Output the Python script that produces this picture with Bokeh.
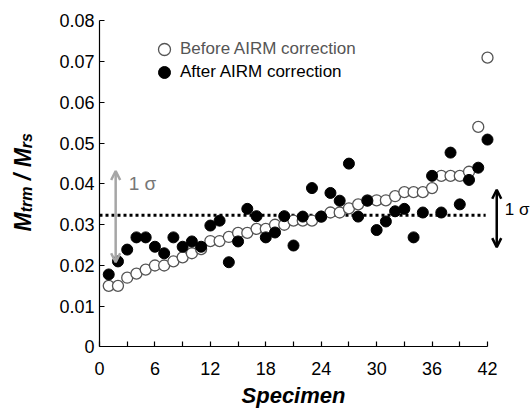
import math
from bokeh.plotting import figure
from bokeh.models import (Range1d, FixedTicker, CustomJSTickFormatter, Label, Arrow,
                          OpenHead, Legend, LegendItem)
from bokeh.embed import file_html
from bokeh.resources import INLINE

# ---------------- data ----------------
specimen = list(range(1, 43))
before = [0.015, 0.015, 0.017, 0.018, 0.019, 0.020, 0.020, 0.021, 0.022, 0.023,
          0.024, 0.026, 0.026, 0.027, 0.028, 0.028, 0.029, 0.029, 0.030, 0.030,
          0.031, 0.031, 0.031, 0.032, 0.033, 0.033, 0.034, 0.035, 0.036, 0.036,
          0.036, 0.037, 0.038, 0.038, 0.038, 0.039, 0.042, 0.042, 0.042, 0.043,
          0.054, 0.071]
after = [0.0178, 0.0210, 0.0239, 0.0269, 0.0269, 0.0246, 0.0230, 0.0269, 0.0246, 0.0259,
         0.0246, 0.0298, 0.0310, 0.0208, 0.0259, 0.0339, 0.0321, 0.0269, 0.0281, 0.0321,
         0.0249, 0.0320, 0.0390, 0.0320, 0.0378, 0.0359, 0.0450, 0.0320, 0.0359, 0.0287,
         0.0308, 0.0333, 0.0339, 0.0269, 0.0330, 0.0420, 0.0330, 0.0477, 0.0350, 0.0410,
         0.0440, 0.0509]
x_ticks = [0, 6, 12, 18, 24, 30, 36, 42]
x_minor_ticks = [3, 9, 15, 21, 27, 33, 39]
y_ticks = [0, 0.01, 0.02, 0.03, 0.04, 0.05, 0.06, 0.07, 0.08]
mean_after = 0.0323
mean_line_x = [0, 41.8]
sigma_before = [0.0208, 0.0432]   # 1 sigma span, before correction
sigma_after = [0.0245, 0.0386]    # 1 sigma span, after correction
sigma_before_x = 1.75
sigma_after_x = 43.0

FONT = "Liberation Sans"
W, H = 530, 409

# the frame covers the whole canvas; axes are pinned at x=0 / y=0
p = figure(width=W, height=H, x_range=Range1d(-10.717, 46.655), y_range=Range1d(-0.01534, 0.08503),
           output_backend="svg", toolbar_location=None, title=None,
           min_border_left=0, min_border_right=0, min_border_top=0, min_border_bottom=0)
p.outline_line_color = None
p.grid.visible = False
p.background_fill_color = "white"
p.border_fill_color = "white"

xa = p.xaxis[0]
xa.fixed_location = 0
xa.bounds = (0, 42)
xa.ticker = FixedTicker(ticks=x_ticks, minor_ticks=x_minor_ticks)
xa.major_tick_in = 5
xa.major_tick_out = 0
xa.minor_tick_in = 5
xa.minor_tick_out = 0
xa.axis_line_color = "black"
xa.axis_line_width = 1.2
xa.major_tick_line_color = "black"
xa.minor_tick_line_color = "black"
xa.major_tick_line_width = 1.2
xa.minor_tick_line_width = 1.2
xa.major_label_text_font = FONT
xa.major_label_text_font_size = "18px"
xa.major_label_text_color = "black"
xa.major_label_standoff = 15

ya = p.yaxis[0]
ya.fixed_location = 0
ya.bounds = (0, 0.08)
ya.ticker = FixedTicker(ticks=y_ticks)
ya.formatter = CustomJSTickFormatter(code="return tick == 0 ? '0' : tick.toFixed(2);")
ya.major_tick_in = 5
ya.major_tick_out = 0
ya.minor_tick_in = 0
ya.minor_tick_out = 0
ya.axis_line_color = "black"
ya.axis_line_width = 1.2
ya.major_tick_line_color = "black"
ya.major_tick_line_width = 1.2
ya.major_label_text_font = FONT
ya.major_label_text_font_size = "18px"
ya.major_label_text_color = "black"
ya.major_label_standoff = 5

# mean line
p.line(mean_line_x, [mean_after, mean_after], line_color="black", line_width=3,
       line_dash="3 3")

# data
r_before = p.scatter(specimen, before, size=11, marker="circle", fill_color="white",
                     line_color="#555555", line_width=1.3)
r_after = p.scatter(specimen, after, size=11, marker="circle", fill_color="black",
                    line_color="black", line_width=1)

# legends (two, so each label can take its own colour)
for item_label, rend, col, loc in [("Before AIRM correction", r_before, "#555555", (149, 345)),
                                   ("After AIRM correction", r_after, "black", (149, 322))]:
    leg = Legend(items=[LegendItem(label=item_label, renderers=[rend])], location=loc,
                 border_line_color=None, background_fill_alpha=0, padding=0, margin=0,
                 spacing=0, glyph_width=30, glyph_height=30, label_standoff=1,
                 label_text_font=FONT, label_text_font_size="17px", label_text_color=col)
    p.add_layout(leg)

# 1 sigma arrows
p.add_layout(Arrow(start=OpenHead(size=9, line_color="#a6a6a6", line_width=2.5),
                   end=OpenHead(size=9, line_color="#a6a6a6", line_width=2.5),
                   x_start=sigma_before_x, y_start=sigma_before[0],
                   x_end=sigma_before_x, y_end=sigma_before[1],
                   line_color="#a6a6a6", line_width=2.5))
p.add_layout(Arrow(start=OpenHead(size=9, line_color="black", line_width=2.5),
                   end=OpenHead(size=9, line_color="black", line_width=2.5),
                   x_start=sigma_after_x, y_start=sigma_after[0],
                   x_end=sigma_after_x, y_end=sigma_after[1],
                   line_color="black", line_width=2.5))
p.add_layout(Label(x=sigma_before_x, y=sum(sigma_before) / 2, x_offset=13, y_offset=33,
                   text="1 σ", text_font=FONT, text_font_size="19px", text_color="#777777",
                   text_baseline="middle"))
p.add_layout(Label(x=sigma_after_x, y=sum(sigma_after) / 2, x_offset=8, y_offset=9,
                   text="1 σ", text_font=FONT, text_font_size="17px", text_color="black",
                   text_baseline="middle"))

# x axis title
p.add_layout(Label(x=21, y=0, y_offset=-49, text="Specimen", text_align="center",
                   text_baseline="middle", text_font=FONT, text_font_size="22px",
                   text_font_style="bold italic", text_color="black"))

# y axis title  M_trm / M_rs  (rotated, built from pieces)
big, small = 23, 16
pieces = [("M", big, 0.833 * big, 0), ("trm", small, 1.611 * small, 4),
          ("/", big, 0.278 * big, 0), ("M", big, 0.833 * big, 0), ("rs", small, 0.945 * small, 4)]
pos = 115.5
for txt, fs, w, drop in pieces:
    if txt == "/":
        pos += 0.278 * big
    p.add_layout(Label(x=0, y=0, x_offset=-77 + drop, y_offset=pos, text=txt, angle=math.pi / 2,
                       text_align="left", text_baseline="alphabetic", text_font=FONT,
                       text_font_size=f"{fs}px", text_font_style="bold italic",
                       text_color="black"))
    pos += w
    if txt == "/":
        pos += 0.278 * big

open("out.html", "w").write(file_html(p, INLINE))
